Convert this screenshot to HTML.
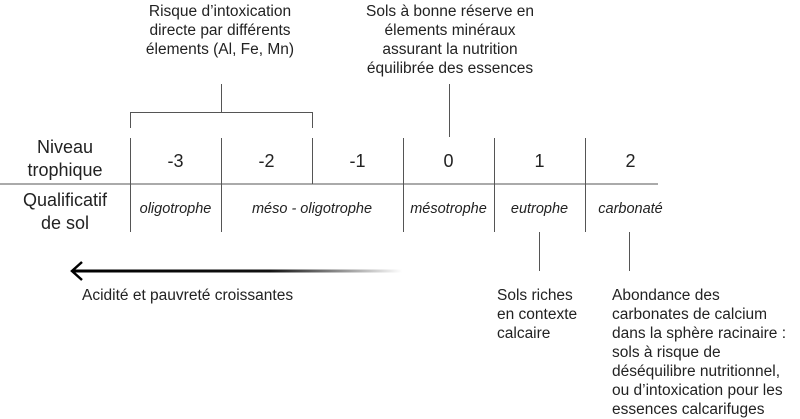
<!DOCTYPE html>
<html><head><meta charset="utf-8"><style>
body{margin:0;width:800px;height:419px;background:#fff;overflow:hidden;font-family:"Liberation Sans",sans-serif;color:#222;}
.t{position:absolute;font-size:15.5px;line-height:19px;white-space:nowrap}
.c{text-align:center}
.i{font-style:italic;font-size:14.5px}
.big{font-size:18px;line-height:23px}
</style></head><body>
<svg width="800" height="419" style="position:absolute;left:0;top:0">
<defs><linearGradient id="g" x1="0" x2="1"><stop offset="0" stop-color="#000"/><stop offset="0.6" stop-color="#111"/><stop offset="1" stop-color="#fff"/></linearGradient></defs>
<g stroke="#555" stroke-width="1" fill="none">
<line x1="0" y1="184" x2="658" y2="184"/>
<line x1="130.5" y1="138" x2="130.5" y2="232"/>
<line x1="221.5" y1="138" x2="221.5" y2="232"/>
<line x1="312.5" y1="138" x2="312.5" y2="184"/>
<line x1="403.5" y1="138" x2="403.5" y2="232"/>
<line x1="494.5" y1="138" x2="494.5" y2="232"/>
<line x1="585.5" y1="138" x2="585.5" y2="232"/>
<polyline points="130.5,128 130.5,112.5 312.5,112.5 312.5,128"/>
<line x1="221.5" y1="84" x2="221.5" y2="112"/>
<line x1="449.5" y1="84" x2="449.5" y2="137"/>
<line x1="539.5" y1="232" x2="539.5" y2="271"/>
<line x1="629.5" y1="232" x2="629.5" y2="271"/>
</g>
<rect x="72" y="269.5" width="330" height="3" fill="url(#g)"/>
<polyline points="82,262 72,271 82,280" stroke="#000" stroke-width="2.5" fill="none"/>
</svg>
<div class="t c" style="left:130px;top:2px;width:180px">Risque d’intoxication<br>directe par différents<br>élements (Al, Fe, Mn)</div>
<div class="t c" style="left:355px;top:2px;width:190px">Sols à bonne réserve en<br>élements minéraux<br>assurant la nutrition<br>équilibrée des essences</div>
<div class="t c big" style="left:0;top:136px;width:130px">Niveau<br>trophique</div>
<div class="t c big" style="left:0;top:189px;width:130px">Qualificatif<br>de sol</div>
<div class="t c big" style="left:130px;top:150px;width:91px">-3</div>
<div class="t c big" style="left:221px;top:150px;width:91px">-2</div>
<div class="t c big" style="left:312px;top:150px;width:91px">-1</div>
<div class="t c big" style="left:403px;top:150px;width:91px">0</div>
<div class="t c big" style="left:494px;top:150px;width:91px">1</div>
<div class="t c big" style="left:585px;top:150px;width:91px">2</div>
<div class="t c i" style="left:130px;top:200px;width:91px">oligotrophe</div>
<div class="t c i" style="left:221px;top:200px;width:182px">méso - oligotrophe</div>
<div class="t c i" style="left:403px;top:200px;width:91px">mésotrophe</div>
<div class="t c i" style="left:494px;top:200px;width:91px">eutrophe</div>
<div class="t c i" style="left:585px;top:200px;width:91px">carbonaté</div>
<div class="t" style="left:82px;top:286px">Acidité et pauvreté croissantes</div>
<div class="t" style="left:497px;top:286px">Sols riches<br>en contexte<br>calcaire</div>
<div class="t" style="left:612px;top:286px">Abondance des<br>carbonates de calcium<br>dans la sphère racinaire :<br>sols à risque de<br>déséquilibre nutritionnel,<br>ou d’intoxication pour les<br>essences calcarifuges</div>
</body></html>
